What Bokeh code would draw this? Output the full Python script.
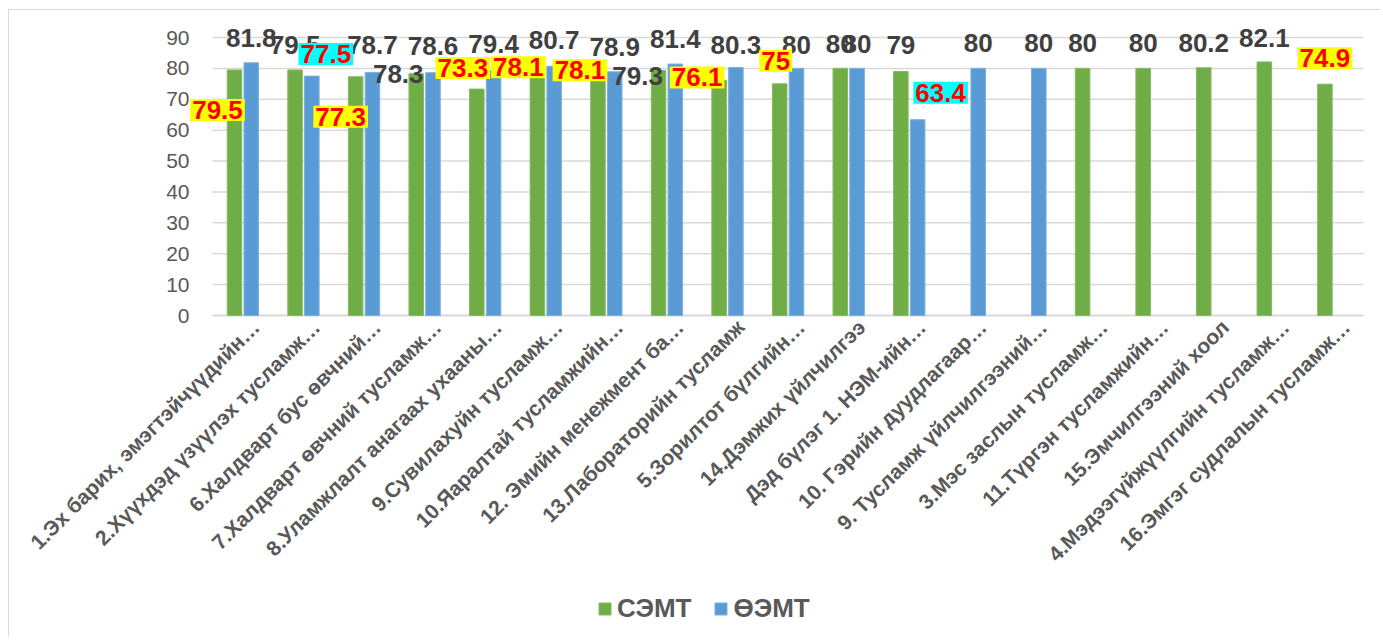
import math
from bokeh.plotting import figure
from bokeh.models import ColumnDataSource, Range1d, Legend, LegendItem, FixedTicker
from bokeh.transform import dodge
from bokeh.core.properties import value
from bokeh.embed import file_html
from bokeh.resources import INLINE

NAN = float("nan")

categories = [
    "1.Эх барих, эмэгтэйчүүдийн…",
    "2.Хүүхдэд үзүүлэх тусламж…",
    "6.Халдварт бус өвчний…",
    "7.Халдварт өвчний тусламж…",
    "8.Уламжлалт анагаах ухааны…",
    "9.Сувилахуйн тусламж…",
    "10.Яаралтай тусламжийн…",
    "12. Эмийн менежмент ба…",
    "13.Лабораторийн тусламж",
    "5.Зорилтот бүлгийн…",
    "14.Дэмжих үйлчилгээ",
    "Дэд бүлэг 1. НЭМ-ийн…",
    "10. Гэрийн дуудлагаар…",
    "9. Тусламж үйлчилгээний…",
    "3.Мэс заслын тусламж…",
    "11.Түргэн тусламжийн…",
    "15.Эмчилгээний хоол",
    "4.Мэдээгүйжүүлгийн тусламж…",
    "16.Эмгэг судлалын тусламж…",
]

series_names = ["СЭМТ", "ӨЭМТ"]
semt = [79.5, 79.5, 77.3, 78.3, 73.3, 78.1, 78.1, 79.3, 76.1, 75, 80, 79, NAN, NAN, 80, 80, 80.2, 82.1, 74.9]
oemt = [81.8, 77.5, 78.7, 78.6, 79.4, 80.7, 78.9, 81.4, 80.3, 80, 80, 63.4, 80, 80, NAN, NAN, NAN, NAN, NAN]
y_ticks = [0, 10, 20, 30, 40, 50, 60, 70, 80, 90]

# label highlight style per value
semt_style = ["yellow", "plain", "yellow", "plain", "yellow", "yellow", "yellow", "plain", "yellow", "yellow",
              "plain", "plain", None, None, "plain", "plain", "plain", "plain", "yellow"]
oemt_style = ["plain", "cyan", "plain", "plain", "plain", "plain", "plain", "plain", "plain", "plain",
              "plain", "cyan", "plain", "plain", None, None, None, None, None]

# label offsets (pixels, relative to bar top centre; dy positive = down)
semt_dx = [-17, 0, -15, -18, -14, -19, -18, -21, -22, -4, 0, 0, 0, 0, 0, 0, 0, 0, 0]
semt_dy = [40, -25, 40, 0, -21, -7, -4, 5, -3, -23, -24, -26, 0, 0, -25, -25, -25, -24, -26]
oemt_dx = [0, 14, 0, 0, 0, 0, 0, 0, 0, 0, 0, 23, 0, 0, 0, 0, 0, 0, 0]
oemt_dy = [-25, -22, -27, -27, -26, -26, -25, -25, -22, -23, -24, -27, -25, -25, 0, 0, 0, 0, 0]

GREEN = "#70ad47"
BLUE = "#5b9bd5"
GREY = "#595959"
GRID = "#d9d9d9"
GREEN_OFF = -0.137
BLUE_OFF = 0.14
n = len(categories)

# pixel layout (canvas-local): frame covers the whole canvas so no text is clipped
W, H = 1372, 628
FL, FT = 0, 0
PX0, PX1 = 203, 1354     # x of category band start/end (canvas)
PY0, PY90 = 305, 27      # y of value 0 / 90 (canvas)
sx = (PX1 - PX0) / n
sy = (PY0 - PY90) / 90.0
x_lo = -0.5 - (PX0 - FL) / sx
x_hi = n - 0.5 + (W - PX1) / sx
y_hi = 90 + (PY90 - FT) / sy
y_lo = -(H - PY0) / sy

p = figure(
    width=W, height=H,
    x_range=Range1d(x_lo, x_hi), y_range=Range1d(y_lo, y_hi),
    output_backend="svg", toolbar_location=None, x_axis_location=None,
    min_border_left=0, min_border_right=0, min_border_top=0, min_border_bottom=0,
)
p.outline_line_color = None
p.background_fill_color = "white"
p.border_fill_color = "white"
p.styles = {"margin-left": "8px", "margin-top": "9px",
            "border-left": "1px solid #d9d9d9", "border-top": "1px solid #d9d9d9"}
p.xgrid.grid_line_color = None
p.ygrid.grid_line_color = None

idx = list(range(n))

# gridlines over the category band only
p.segment(x0=[-0.5] * len(y_ticks[1:]), x1=[n - 0.5] * len(y_ticks[1:]), y0=y_ticks[1:], y1=y_ticks[1:],
          line_color=GRID, line_width=1.5)
p.segment(x0=[-0.5], x1=[n - 0.5], y0=[0], y1=[0], line_color=GRID, line_width=2)

src = ColumnDataSource(dict(idx=idx, cat=categories, semt=semt, oemt=oemt, zero=[0] * n))
r1 = p.vbar(x=dodge("idx", GREEN_OFF), top="semt", width=0.24, source=src,
            fill_color=GREEN, line_color="#84bb64", line_width=1)
r2 = p.vbar(x=dodge("idx", BLUE_OFF), top="oemt", width=0.24, source=src,
            fill_color=BLUE, line_color="#78afe0", line_width=1)

# data labels
styles = {
    "plain": dict(text_color="#404040", bg=None),
    "yellow": dict(text_color="#ff0000", bg="#ffff00"),
    "cyan": dict(text_color="#ff0000", bg="#00ffff"),
}
for sty in ["plain", "yellow", "cyan"]:
    xs, ys, ts, dxs, dys = [], [], [], [], []
    for vals, stl, dx, dy, off in [(semt, semt_style, semt_dx, semt_dy, GREEN_OFF),
                                   (oemt, oemt_style, oemt_dx, oemt_dy, BLUE_OFF)]:
        for i, v in enumerate(vals):
            if stl[i] == sty and not math.isnan(v):
                xs.append(i + off)
                ys.append(v)
                ts.append("%g" % v)
                dxs.append(dx[i])
                dys.append(dy[i])
    s = ColumnDataSource(dict(x=xs, y=ys, t=ts, dx=dxs, dy=dys))
    kw = dict(text_font=value("Liberation Sans"), text_font_style="bold", text_font_size="26px",
              text_align="center", text_baseline="middle", text_color=styles[sty]["text_color"])
    if styles[sty]["bg"]:
        kw.update(background_fill_color=styles[sty]["bg"], padding=2)
    p.text(x="x", y="y", text="t", x_offset="dx", y_offset="dy", source=s, **kw)

# category labels (rotated 45°)
p.text(x="idx", y="zero", text="cat", source=src, angle=math.pi / 4,
       text_align="right", text_baseline="middle", x_offset=13, y_offset=8,
       text_font=value("Liberation Sans"), text_font_style="bold", text_font_size="21px",
       text_color=GREY)

# y axis, drawn at the start of the category band
p.yaxis.fixed_location = -0.5
p.yaxis.ticker = FixedTicker(ticks=y_ticks)
p.yaxis.major_label_text_font = "Liberation Sans"
p.yaxis.major_label_text_font_size = "21px"
p.yaxis.major_label_text_color = GREY
p.yaxis.axis_line_color = None
p.yaxis.major_tick_line_color = None
p.yaxis.minor_tick_line_color = None
p.yaxis.major_tick_out = 0
p.yaxis.major_tick_in = 0
p.yaxis.major_label_standoff = 23

legend = Legend(items=[LegendItem(label=series_names[0], renderers=[r1]),
                       LegendItem(label=series_names[1], renderers=[r2])],
                orientation="horizontal", location=(588, 14),
                label_text_font="Liberation Sans", label_text_font_style="bold",
                label_text_font_size="26px", label_text_color=GREY,
                glyph_width=15, glyph_height=15, label_standoff=5, spacing=22,
                padding=0, margin=0, border_line_color=None, background_fill_alpha=0,
                label_height=30)
p.add_layout(legend, "center")

open("out.html", "w").write(file_html(p, INLINE))
